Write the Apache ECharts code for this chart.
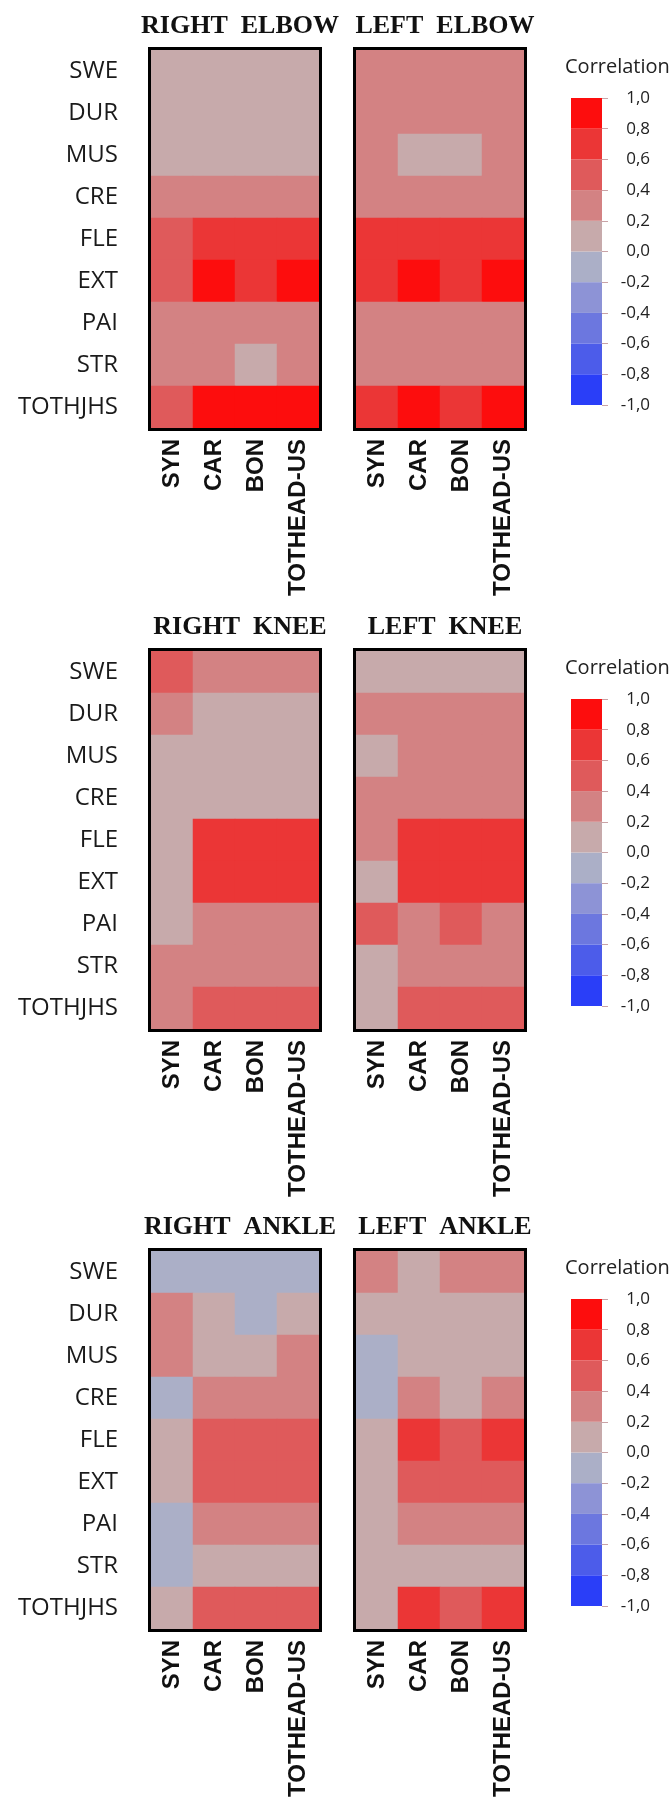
<!DOCTYPE html>
<html>
<head>
<meta charset="utf-8">
<title>Correlation heatmaps</title>
<script src="https://cdn.jsdelivr.net/npm/echarts@6/dist/echarts.min.js"></script>
<style>
  html, body { margin: 0; padding: 0; background: #fff; }
  #chart { width: 669px; height: 1801px; }
</style>
</head>
<body>
<div id="chart"></div>
<script>
const rowLabels = ['SWE', 'DUR', 'MUS', 'CRE', 'FLE', 'EXT', 'PAI', 'STR', 'TOTHJHS'];
const colLabels = ['SYN', 'CAR', 'BON', 'TOTHEAD-US'];
const panelTitles = [
  ['RIGHT  ELBOW', 'LEFT  ELBOW'],
  ['RIGHT  KNEE', 'LEFT  KNEE'],
  ['RIGHT  ANKLE', 'LEFT  ANKLE']
];

// rows follow rowLabels, columns follow colLabels
const rightElbow = [
  [0.1, 0.1, 0.1, 0.1],
  [0.1, 0.1, 0.1, 0.1],
  [0.1, 0.1, 0.1, 0.1],
  [0.3, 0.3, 0.3, 0.3],
  [0.5, 0.7, 0.7, 0.7],
  [0.5, 0.9, 0.7, 0.9],
  [0.3, 0.3, 0.3, 0.3],
  [0.3, 0.3, 0.1, 0.3],
  [0.5, 0.9, 0.9, 0.9]
];
const leftElbow = [
  [0.3, 0.3, 0.3, 0.3],
  [0.3, 0.3, 0.3, 0.3],
  [0.3, 0.1, 0.1, 0.3],
  [0.3, 0.3, 0.3, 0.3],
  [0.7, 0.7, 0.7, 0.7],
  [0.7, 0.9, 0.7, 0.9],
  [0.3, 0.3, 0.3, 0.3],
  [0.3, 0.3, 0.3, 0.3],
  [0.7, 0.9, 0.7, 0.9]
];
const rightKnee = [
  [0.5, 0.3, 0.3, 0.3],
  [0.3, 0.1, 0.1, 0.1],
  [0.1, 0.1, 0.1, 0.1],
  [0.1, 0.1, 0.1, 0.1],
  [0.1, 0.7, 0.7, 0.7],
  [0.1, 0.7, 0.7, 0.7],
  [0.1, 0.3, 0.3, 0.3],
  [0.3, 0.3, 0.3, 0.3],
  [0.3, 0.5, 0.5, 0.5]
];
const leftKnee = [
  [0.1, 0.1, 0.1, 0.1],
  [0.3, 0.3, 0.3, 0.3],
  [0.1, 0.3, 0.3, 0.3],
  [0.3, 0.3, 0.3, 0.3],
  [0.3, 0.7, 0.7, 0.7],
  [0.1, 0.7, 0.7, 0.7],
  [0.5, 0.3, 0.5, 0.3],
  [0.1, 0.3, 0.3, 0.3],
  [0.1, 0.5, 0.5, 0.5]
];
const rightAnkle = [
  [-0.1, -0.1, -0.1, -0.1],
  [0.3, 0.1, -0.1, 0.1],
  [0.3, 0.1, 0.1, 0.3],
  [-0.1, 0.3, 0.3, 0.3],
  [0.1, 0.5, 0.5, 0.5],
  [0.1, 0.5, 0.5, 0.5],
  [-0.1, 0.3, 0.3, 0.3],
  [-0.1, 0.1, 0.1, 0.1],
  [0.1, 0.5, 0.5, 0.5]
];
const leftAnkle = [
  [0.3, 0.1, 0.3, 0.3],
  [0.1, 0.1, 0.1, 0.1],
  [-0.1, 0.1, 0.1, 0.1],
  [-0.1, 0.3, 0.1, 0.3],
  [0.1, 0.7, 0.5, 0.7],
  [0.1, 0.5, 0.5, 0.5],
  [0.1, 0.3, 0.3, 0.3],
  [0.1, 0.1, 0.1, 0.1],
  [0.1, 0.7, 0.5, 0.7]
];
const panelData = [[rightElbow, leftElbow], [rightKnee, leftKnee], [rightAnkle, leftAnkle]];

// colour classes of the correlation scale, from -1 to 1
const corrBreaks = [-1, -0.8, -0.6, -0.4, -0.2, 0, 0.2, 0.4, 0.6, 0.8, 1];
const corrColors = ['#2a3ef8', '#4c5cea', '#6c77df', '#8d93d6', '#abafc7', '#c7aaab', '#d38283', '#df5a5b', '#eb3636', '#fd0d0d'];

// layout
const groupTops = [50, 651, 1251];
const panelLefts = [151, 356];
const cellSize = 42;
const panelW = cellSize * colLabels.length;
const panelH = cellSize * rowLabels.length;
const legendLeft = 571;
const legendW = 31;
const legendH = 307;

const myChart = echarts.init(document.getElementById('chart'));

const toCells = (matrix) => {
  const cells = [];
  matrix.forEach((row, r) => row.forEach((v, c) => cells.push([c, r, v])));
  return cells;
};

const fmtTick = (v) => v.toFixed(1).replace('.', ',').replace('-0,0', '0,0');

const grid = [];
const xAxis = [];
const yAxis = [];
const series = [];
const title = [];
const graphic = [];
const heatIdx = [];

groupTops.forEach((top, g) => {
  panelLefts.forEach((left, p) => {
    const k = grid.length;
    grid.push({ left, top, width: panelW, height: panelH, outerBoundsMode: 'none' });
    xAxis.push({
      type: 'category',
      gridIndex: k,
      data: colLabels,
      axisLine: { show: false },
      axisTick: { show: false },
      splitLine: { show: false },
      axisLabel: {
        rotate: 90,
        margin: 11,
        fontFamily: 'Liberation Sans',
        fontWeight: 'bold',
        fontSize: 24,
        color: '#111'
      }
    });
    yAxis.push({
      type: 'category',
      gridIndex: k,
      data: rowLabels,
      inverse: true,
      axisLine: { show: false },
      axisTick: { show: false },
      splitLine: { show: false },
      axisLabel: {
        show: p === 0,
        margin: 33,
        fontFamily: 'Open Sans',
        fontSize: 24,
        color: '#1a1a1a'
      }
    });
    heatIdx.push(series.length);
    series.push({
      type: 'heatmap',
      xAxisIndex: k,
      yAxisIndex: k,
      data: toCells(panelData[g][p]),
      itemStyle: { borderWidth: 0 },
      emphasis: { disabled: true },
      silent: true
    });
    title.push({
      text: panelTitles[g][p],
      left: left + panelW / 2,
      top: top - 42,
      textAlign: 'center',
      textStyle: { fontFamily: 'Liberation Serif', fontWeight: 'bold', fontSize: 26, color: '#111' }
    });
    graphic.push({
      type: 'rect',
      z: 100,
      shape: { x: left - 1.5, y: top - 1.5, width: panelW + 3, height: panelH + 3 },
      style: { fill: 'none', stroke: '#000', lineWidth: 3 }
    });
  });
});

// colour bar legend for each group, built as stacked bins on a -1..1 axis
groupTops.forEach((top, g) => {
  const k = grid.length;
  grid.push({ left: legendLeft, top: top + 48, width: legendW, height: legendH, outerBoundsMode: 'none' });
  xAxis.push({ type: 'category', gridIndex: k, data: [''], show: false });
  yAxis.push({
    type: 'value',
    gridIndex: k,
    min: -1,
    max: 1,
    interval: 0.2,
    position: 'right',
    axisLine: { show: false },
    axisTick: { show: true, length: 6, lineStyle: { color: '#c9a3a6' } },
    splitLine: { show: false },
    axisLabel: {
      align: 'right',
      margin: 48,
      fontFamily: 'Open Sans',
      fontSize: 17,
      color: '#222',
      formatter: fmtTick
    }
  });
  const bins = corrColors.map((color, i) => ({ lo: corrBreaks[i], hi: corrBreaks[i + 1], color }));
  bins
    .slice()
    .sort((a, b) => Math.abs(a.lo + a.hi) - Math.abs(b.lo + b.hi))
    .forEach((b) => {
      series.push({
        type: 'bar',
        xAxisIndex: k,
        yAxisIndex: k,
        stack: 'bar' + g,
        barWidth: legendW,
        silent: true,
        itemStyle: { color: b.color },
        data: [b.lo >= 0 ? b.hi - b.lo : b.lo - b.hi]
      });
    });
  title.push({
    text: 'Correlation',
    left: 560,
    top: top + 2,
    textStyle: { fontFamily: 'Open Sans', fontWeight: 'normal', fontSize: 20, color: '#222' }
  });
});

const option = {
  backgroundColor: '#fff',
  animation: false,
  title,
  grid,
  xAxis,
  yAxis,
  visualMap: {
    type: 'piecewise',
    show: false,
    seriesIndex: heatIdx,
    pieces: corrColors.map((color, i) =>
      i === corrColors.length - 1
        ? { gte: corrBreaks[i], lte: corrBreaks[i + 1], color }
        : { gte: corrBreaks[i], lt: corrBreaks[i + 1], color }
    )
  },
  graphic,
  series
};

myChart.setOption(option);
</script>
</body>
</html>
